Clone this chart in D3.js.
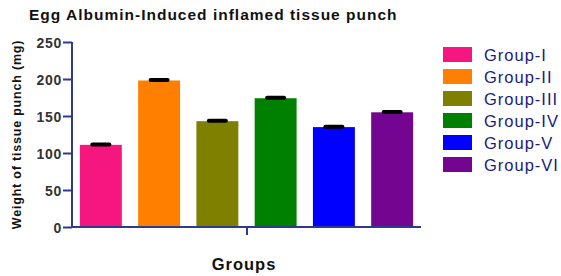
<!DOCTYPE html>
<html>
<head>
<meta charset="utf-8">
<script src="https://cdn.jsdelivr.net/npm/d3@7"></script>
<style>
  body { margin: 0; background: #fff; }
  svg { font-family: Arial, "Liberation Sans", sans-serif; }
</style>
</head>
<body>
<svg id="chart" width="561" height="276"></svg>
<script>
const groups = ["Group-I", "Group-II", "Group-III", "Group-IV", "Group-V", "Group-VI"];
const means = [111, 198, 143, 174, 135, 155];
const errors = [0.5, 0.5, 0.5, 0.5, 0.5, 0.5];
const colors = ["#f5177f", "#ff8000", "#808000", "#008000", "#0000ff", "#730590"];
const yTicks = [0, 50, 100, 150, 200, 250];

const svg = d3.select("#chart");
const axisColor = "#2e3a8c";

const x = d3.scaleBand()
    .domain(groups)
    .range([72, 421])
    .paddingInner(0.28)
    .paddingOuter(0.135);

const y = d3.scaleLinear()
    .domain([0, 250])
    .range([227, 42]);

// bars
svg.append("g")
    .selectAll("rect")
    .data(groups)
    .enter()
    .append("rect")
    .attr("x", d => x(d))
    .attr("y", (d, i) => y(means[i]))
    .attr("width", x.bandwidth())
    .attr("height", (d, i) => y(0) - y(means[i]))
    .attr("fill", (d, i) => colors[i]);

// error caps
svg.append("g")
    .selectAll("line")
    .data(groups)
    .enter()
    .append("line")
    .attr("x1", d => x(d) + x.bandwidth() / 2 - 8.5)
    .attr("x2", d => x(d) + x.bandwidth() / 2 + 8.5)
    .attr("y1", (d, i) => y(means[i] + errors[i]))
    .attr("y2", (d, i) => y(means[i] + errors[i]))
    .attr("stroke", "#000")
    .attr("stroke-width", 4)
    .attr("stroke-linecap", "round");

// y axis
const yAxis = svg.append("g")
    .attr("transform", "translate(72,0)")
    .call(d3.axisLeft(y).tickValues(yTicks).tickSize(9).tickPadding(1).tickSizeOuter(0));
yAxis.select(".domain").attr("stroke", axisColor).attr("stroke-width", 2)
    .attr("d", `M0,${y(250)}V${y(0)}`);
yAxis.selectAll(".tick line").attr("stroke", axisColor).attr("stroke-width", 2);
yAxis.selectAll(".tick text")
    .attr("fill", "#333")
    .attr("dy", "0.36em")
    .style("font-size", "14px")
    .style("font-weight", "bold")
    .style("letter-spacing", "0.7px")
    .style("font-family", "Arial, 'Liberation Sans', sans-serif");

// x axis
const xAxis = svg.append("g")
    .attr("transform", `translate(0,${y(0)})`);
xAxis.append("line")
    .attr("x1", 71).attr("x2", 421)
    .attr("stroke", axisColor).attr("stroke-width", 2);
xAxis.append("line")
    .attr("x1", 247).attr("x2", 247)
    .attr("y1", 0).attr("y2", 8)
    .attr("stroke", axisColor).attr("stroke-width", 2);

// title
svg.append("text")
    .attr("x", 29)
    .attr("y", 20)
    .style("font-size", "15.5px")
    .style("font-weight", "bold")
    .style("letter-spacing", "1px")
    .attr("fill", "#111")
    .text("Egg Albumin-Induced inflamed tissue punch");

svg.append("text")
    .attr("x", 244)
    .attr("y", 270)
    .attr("text-anchor", "middle")
    .style("font-size", "16.5px")
    .style("font-weight", "bold")
    .style("letter-spacing", "1px")
    .attr("fill", "#111")
    .text("Groups");

svg.append("text")
    .attr("transform", `translate(21,${(y(0) + y(250)) / 2}) rotate(-90)`)
    .attr("text-anchor", "middle")
    .style("font-size", "12.5px")
    .style("font-weight", "bold")
    .style("letter-spacing", "0.8px")
    .attr("fill", "#111")
    .text("Weight of tissue punch (mg)");

// legend
const legend = svg.append("g")
    .selectAll("g")
    .data(groups)
    .enter()
    .append("g")
    .attr("transform", (d, i) => `translate(443,${47 + i * 22})`);

legend.append("rect")
    .attr("width", 29)
    .attr("height", 15)
    .attr("fill", (d, i) => colors[i]);

legend.append("text")
    .attr("x", 41)
    .attr("y", 13.5)
    .style("font-size", "16.5px")
    .style("letter-spacing", "1px")
    .attr("fill", "#1a1a80")
    .text(d => d);
</script>
</body>
</html>
